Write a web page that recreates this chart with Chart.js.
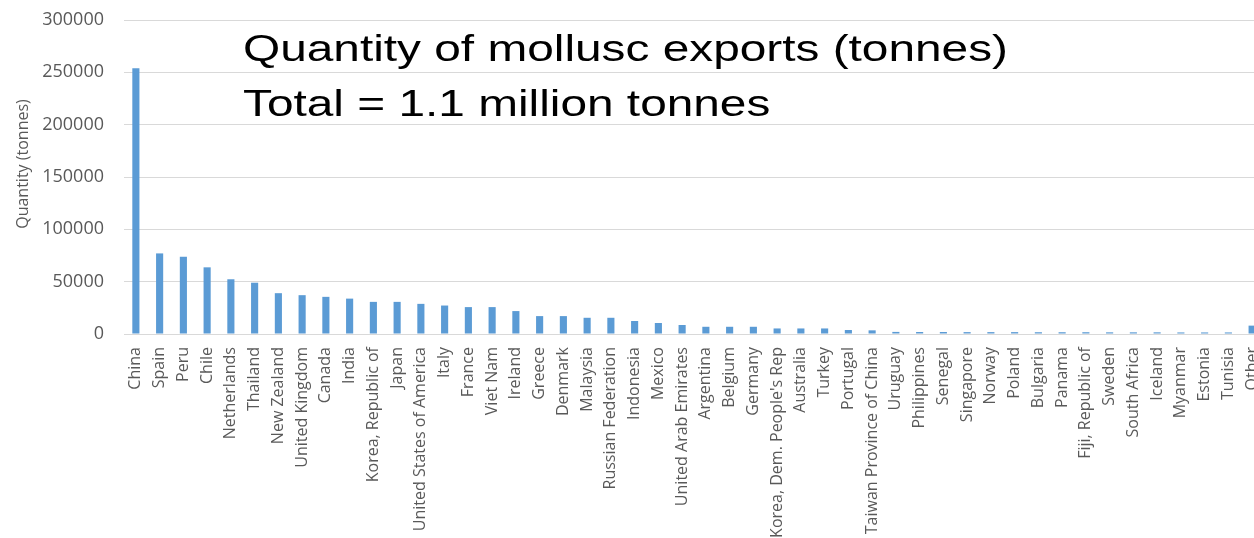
<!DOCTYPE html>
<html>
<head>
<meta charset="utf-8">
<script src="https://cdn.jsdelivr.net/npm/chart.js@4"></script>
<style>
  html, body { margin: 0; padding: 0; background: #fff; overflow: hidden; }
  #wrap { position: relative; width: 1264px; height: 538px; }
</style>
</head>
<body>
<div id="wrap"><canvas id="chart-molluscs"></canvas></div>
<script>
{ // scoping

// exporting countries, biggest first
const countries = [
  'China', 'Spain', 'Peru', 'Chile', 'Netherlands', 'Thailand', 'New Zealand',
  'United Kingdom', 'Canada', 'India', 'Korea, Republic of', 'Japan',
  'United States of America', 'Italy', 'France', 'Viet Nam', 'Ireland', 'Greece',
  'Denmark', 'Malaysia', 'Russian Federation', 'Indonesia', 'Mexico',
  'United Arab Emirates', 'Argentina', 'Belgium', 'Germany',
  'Korea, Dem. People\'s Rep', 'Australia', 'Turkey', 'Portugal',
  'Taiwan Province of China', 'Uruguay', 'Philippines', 'Senegal', 'Singapore',
  'Norway', 'Poland', 'Bulgaria', 'Panama', 'Fiji, Republic of', 'Sweden',
  'South Africa', 'Iceland', 'Myanmar', 'Estonia', 'Tunisia', 'Other'
];

// tonnes
const tonnes = [
  254000, 77000, 73800, 63700, 52300, 49000, 39000,
  37100, 35500, 33800, 30700, 30700,
  28800, 27200, 25700, 25700, 21900, 17100,
  17100, 15500, 15500, 12400, 10500,
  8600, 6900, 6900, 6900,
  5300, 5300, 5300, 3800,
  3500, 2000, 1900, 1900, 1800,
  1800, 1800, 1700, 1700, 1700, 1600,
  1600, 1600, 1500, 1500, 1500, 8000
];

const yTicksMax = 300000;
const yTickStep = 50000;

const titleLines = ['Quantity of mollusc exports (tonnes)', 'Total = 1.1 million tonnes'];
const yAxisTitle = 'Quantity (tonnes)';

const grey = '#595959';
const gridGrey = '#d9d9d9';

// big title over the plot + rotated axis title
const textPlugin = {
  id: 'textPlugin',
  afterDraw(chart) {
    const ctx = chart.ctx;
    ctx.save();
    ctx.fillStyle = '#000';
    ctx.font = '37px "Liberation Sans", Arial, sans-serif';
    ctx.textBaseline = 'alphabetic';
    ctx.textAlign = 'left';
    // the source picture is stretched sideways, so stretch the text the same
    const w = ctx.measureText(titleLines[0]).width;
    const sx = 765 / w;
    ctx.translate(243, 0);
    ctx.scale(sx, 1);
    ctx.fillText(titleLines[0], 0, 61);
    ctx.fillText(titleLines[1], 0, 116);
    ctx.restore();

    ctx.save();
    ctx.fillStyle = grey;
    ctx.font = '16px "Open Sans", sans-serif';
    ctx.textAlign = 'center';
    ctx.textBaseline = 'middle';
    ctx.translate(23, 164);
    ctx.rotate(-Math.PI / 2);
    ctx.fillText(yAxisTitle, 0, 0);
    ctx.restore();
  }
};

const ctx = document.getElementById('chart-molluscs').getContext('2d');

const myChart = new Chart(ctx, {
  type: 'bar',
  data: {
    labels: countries,
    datasets: [{
      label: 'Quantity (tonnes)',
      data: tonnes,
      backgroundColor: '#5b9bd5',
      borderWidth: 0,
      barPercentage: 0.3,
      categoryPercentage: 1
    }]
  },
  options: {
    responsive: true,
    maintainAspectRatio: false,
    animation: false,
    layout: { padding: { top: 20, left: 0, right: 0, bottom: 0 } },
    plugins: {
      legend: { display: false },
      tooltip: { enabled: false }
    },
    scales: {
      x: {
        grid: { display: false },
        border: { display: true, color: gridGrey, width: 1 },
        ticks: {
          autoSkip: false,
          maxRotation: 90,
          minRotation: 90,
          padding: 5,
          color: grey,
          font: { family: '"Open Sans", sans-serif', size: 16 }
        },
        afterFit(scale) {
          scale.height = 204;
          scale.paddingLeft = 0;
          scale.paddingRight = 0;
        }
      },
      y: {
        min: 0,
        max: yTicksMax,
        grid: { color: gridGrey, drawTicks: false },
        border: { display: false },
        ticks: {
          stepSize: yTickStep,
          padding: 20,
          color: grey,
          font: { family: '"Open Sans", sans-serif', size: 18 },
          callback: function(v) { return String(v); }
        },
        afterFit(scale) {
          scale.width = 124;
          scale.paddingTop = 0;
          scale.paddingBottom = 0;
        }
      }
    }
  },
  plugins: [textPlugin]
});

} // scoping
</script>
</body>
</html>
